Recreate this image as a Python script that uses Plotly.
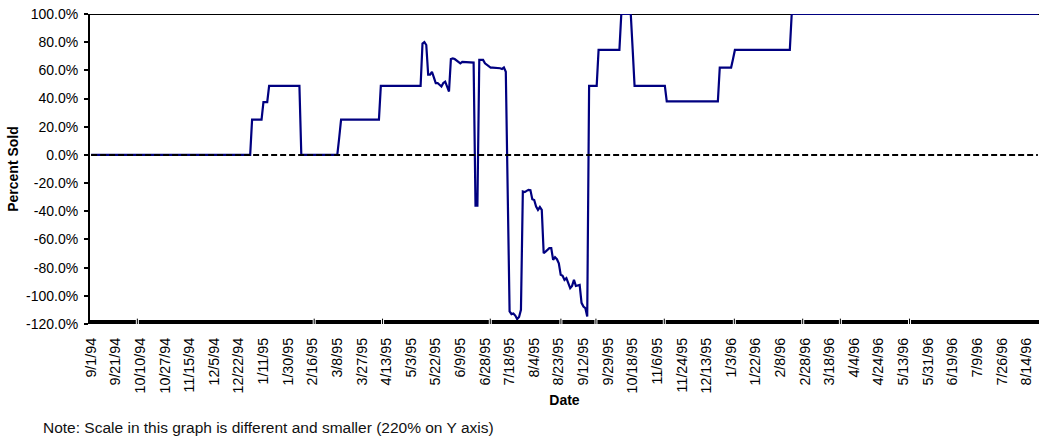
import numpy as np
import pandas as pd
import plotly.graph_objects as go

# Trading calendar (exchange holidays in the period)
holidays = [
    "1994-09-05", "1994-11-24", "1995-01-02", "1995-02-20", "1995-04-14",
    "1995-05-29", "1995-07-04", "1995-09-04", "1995-11-23", "1995-12-25",
    "1996-01-01", "1996-02-19", "1996-04-05", "1996-05-27", "1996-07-04",
]
trade_days = pd.bdate_range("1994-09-01", periods=501, freq="C", holidays=holidays)
dates = [f"{d.month}/{d.day}/{d.year % 100:02d}" for d in trade_days]

# Percent sold, stored as runs of identical daily values
run_length = [
    85, 6, 3, 17, 20, 1, 21, 22,
    1, 1, 1, 1, 1, 1, 1, 1, 1, 1, 1, 1, 1, 1, 1,
    1, 1, 1, 1, 1, 1, 6, 1, 2, 3, 1, 1, 1, 5, 1, 1, 1, 1,
    1, 1, 1, 1, 1, 1, 1, 1,
    1, 1, 1, 1, 1, 1, 1, 1, 1, 1, 1,
    1, 1, 1, 1, 1, 1, 1, 1, 1,
    1, 1, 1, 1, 1, 1, 1, 1, 1, 1, 1,
    1, 1, 1, 1,
    5, 12, 6, 1, 17, 28, 7, 1, 30, 131,
]
run_pct = [
    0, 25, 37.5, 49, 0, 12, 25, 49,
    79, 80, 78, 57, 57, 59, 55, 51, 51, 50, 48.5, 51, 52, 48.5, 45,
    68, 68.5, 68, 67, 66.5, 65, 66, 65.5, -36, 67.4, 65, 64, 63, 62, 61.5, 61, 62, 59,
    -25, -111, -113, -112.5, -114, -116.5, -115, -110,
    -26, -26.4, -25.5, -24.8, -25, -31.4, -32, -36.6, -39, -37, -39,
    -69.7, -68.6, -67, -66.2, -66.2, -74.5, -72.6, -74, -77,
    -85.1, -85.8, -88.7, -87.5, -91, -94.6, -93, -88.7, -93, -92.5, -92.2,
    -105, -107.6, -108.7, -114.7,
    49, 74.5, 100, 75, 49, 38, 62, 68, 74.5, 100,
]
pct_sold = np.repeat(run_pct, run_length)

tick_labels = [
    "9/1/94", "9/21/94", "10/10/94", "10/27/94", "11/15/94", "12/5/94", "12/22/94",
    "1/11/95", "1/30/95", "2/16/95", "3/8/95", "3/27/95", "4/13/95", "5/3/95",
    "5/22/95", "6/9/95", "6/28/95", "7/18/95", "8/4/95", "8/23/95", "9/12/95",
    "9/29/95", "10/18/95", "11/6/95", "11/24/95", "12/13/95", "1/3/96", "1/22/96",
    "2/8/96", "2/28/96", "3/18/96", "4/4/96", "4/24/96", "5/13/96", "5/31/96",
    "6/19/96", "7/9/96", "7/26/96", "8/14/96",
]
y_ticks = [-120, -100, -80, -60, -40, -20, 0, 20, 40, 60, 80, 100]
y_tick_text = [f"{v:.1f}%" for v in y_ticks]

# Light breaks drawn across the dense tick band of the date axis
band_breaks = [24.4, 117.8, 153.9, 210.8, 248.1, 266.6, 302.7, 339.7, 375.8, 395.7, 432.2]

FONT = "Liberation Sans, Arial, sans-serif"

fig = go.Figure()
fig.add_trace(go.Scatter(
    x=dates, y=pct_sold, mode="lines",
    line=dict(color="#000080", width=2.2),
    showlegend=False, hoverinfo="x+y",
))
# zero reference line
fig.add_trace(go.Scatter(
    x=[dates[0], dates[-1]], y=[0, 0], mode="lines",
    line=dict(color="black", width=2, dash="6px,3px"),
    showlegend=False, hoverinfo="skip",
))

shapes = [
    # top frame line
    dict(type="line", xref="paper", yref="y", x0=0, x1=1, y0=100, y1=100,
         line=dict(color="black", width=2), layer="below"),
    # dense tick band along the date axis
    dict(type="line", xref="paper", yref="y", x0=0, x1=1, y0=-120, y1=-120,
         line=dict(color="black", width=8), layer="above"),
]
for b in band_breaks:
    shapes.append(dict(type="line", xref="x", yref="y", x0=b, x1=b,
                       y0=-123.2, y1=-116.8, line=dict(color="white", width=3),
                       layer="above"))
    shapes.append(dict(type="line", xref="x", yref="y", x0=b, x1=b,
                       y0=-123.8, y1=-116.2, line=dict(color="black", width=1),
                       layer="above"))

fig.update_layout(
    width=1039, height=439,
    margin=dict(l=90, r=0, t=14, b=115),
    paper_bgcolor="white", plot_bgcolor="white",
    font=dict(family=FONT, size=14, color="black"),
    shapes=shapes,
    annotations=[
        dict(text="Note: Scale in this graph is different and smaller (220% on Y axis)",
             xref="paper", yref="paper", x=-0.052, y=-0.335,
             xanchor="left", yanchor="middle", showarrow=False,
             font=dict(family=FONT, size=15.5, color="#111111")),
    ],
)
fig.update_xaxes(
    type="category", range=[-0.6, 500.6],
    tickmode="array", tickvals=tick_labels, ticktext=tick_labels,
    tickangle=-90, ticks="", ticklabelstandoff=10,
    tickfont=dict(family=FONT, size=14.3),
    showline=False, showgrid=False, zeroline=False,
    title=dict(text="<b>Date</b>", font=dict(family=FONT, size=14), standoff=2),
)
fig.update_yaxes(
    range=[-120, 100], tickmode="array", tickvals=y_ticks, ticktext=y_tick_text,
    ticks="outside", ticklen=4, tickwidth=2, tickcolor="black",
    ticklabelstandoff=3,
    tickfont=dict(family=FONT, size=14),
    showline=True, linecolor="black", linewidth=2,
    showgrid=False, zeroline=False,
    title=dict(text="<b>Percent Sold</b>", font=dict(family=FONT, size=14), standoff=4),
)

fig.write_html("out.html")
